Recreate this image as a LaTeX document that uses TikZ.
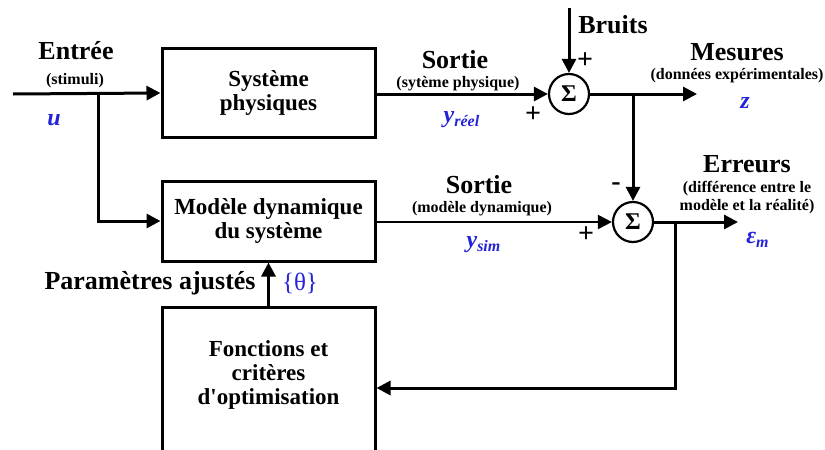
\documentclass[tikz,border=0pt]{standalone}
\usepackage{fontspec}
\setmainfont{Liberation Serif}
\usetikzlibrary{arrows.meta}

\definecolor{bleusig}{RGB}{35,35,215}

\tikzset{
  bloc/.style={draw, line width=1.5pt, minimum width=106.5pt, inner sep=0pt,
    align=center, font=\bfseries\fontsize{11.5}{12}\selectfont},
  somme/.style={circle, draw, line width=1.1pt, minimum size=20pt, inner sep=0pt,
    font=\bfseries\fontsize{12}{12}\selectfont},
  fleche/.style={line width=1.5pt, -{Triangle[length=7pt,width=7pt]}},
  titre/.style={font=\bfseries\fontsize{13}{13}\selectfont, inner sep=0pt},
  petit/.style={font=\bfseries\fontsize{8}{7.5}\selectfont, inner sep=0pt, align=center},
  signe/.style={font=\bfseries\fontsize{14}{14}\selectfont, inner sep=0pt},
  sig/.style={text=bleusig, font=\bfseries\itshape\fontsize{12}{12}\selectfont, inner sep=0pt},
}

\begin{document}
\begin{tikzpicture}[x=0.5pt, y=-0.5pt]

\clip (0,0) rectangle (825,450);

% blocs
\node[bloc, minimum height=44.5pt] (systeme) at (268.5,93) {Système\\physiques};
\node[bloc, minimum height=40pt] (modele) at (268.5,221) {Modèle dynamique\\du système};
\node[bloc, minimum height=81pt] (optim) at (268.5,388) {};
\node[align=center, inner sep=0pt, font=\bfseries\fontsize{11.5}{12}\selectfont] (optimtxt) at ([yshift=6.5pt]optim.center) {Fonctions et\\critères\\d\textquotesingle optimisation};

% sommateurs
\node[somme] (sum1) at (569,94) {Σ};
\node[somme] (sum2) at (633,222) {Σ};

% points de branchement
\coordinate (entree) at (13,94);
\coordinate (b1) at (98,94);
\coordinate (bruit) at (569,8);
\coordinate (b2) at (633,94);
\coordinate (mes) at (697,94);
\coordinate (b3) at (675,222);
\coordinate (err) at (738,222);
\coordinate (coin) at (675,388);

% connexions
\draw[fleche] (entree) -- (systeme.west);
\draw[fleche] (b1) |- (modele.west);
\draw[fleche] (systeme.east |- sum1) -- (sum1.west);
\draw[fleche] (bruit) -- (sum1.north);
\draw[fleche] (sum1.east) -- (mes);
\draw[fleche] (b2) -- (sum2.north);
\draw[line width=1pt, -{Triangle[length=7pt,width=7pt]}] (modele.east |- sum2) -- (sum2.west);
\draw[fleche] (sum2.east) -- (err);
\draw[fleche] (b3) -- (coin) -- (coin -| optim.east);
\draw[fleche] (optim.north) -- (modele.south);

% textes
\node[titre] (lentree) at (76,51) {Entrée};
\node[petit] (lstim) at (75,81) {(stimuli)};
\node[sig] (lu) at (54,120) {u};

\node[titre] (lsortie1) at (455,60) {Sortie};
\node[petit] (lphys) at (458,84) {(sytème physique)};
\node[sig] (lyreel) at (462,120) {y\textsubscript{réel}};

\node[signe] (p1) at (533,115) {+};
\node[titre] (lbruit) at (613,25) {Bruits};
\node[signe] (p2) at (585,61) {+};

\node[titre] (lmes) at (737,52) {Mesures};
\node[petit] (lexp) at (737,76) {(données expérimentales)};
\node[sig] (lz) at (745,103) {z};

\node[titre] (lsortie2) at (479,185) {Sortie};
\node[petit] (ldyn) at (482,209) {(modèle dynamique)};
\node[sig] (lysim) at (484,245) {y\textsubscript{sim}};

\node[signe] (p3) at (586,235) {+};
\node[signe] (m1) at (616,187) {-};

\node[titre] (lerr) at (747,164) {Erreurs};
\node[petit, font=\bfseries\fontsize{8}{9}\selectfont] (ldiff) at (747,198) {(différence entre le\\modèle et la réalité)};
\node[sig] (leps) at (758,240) {ε\textsubscript{m}};

\node[titre, anchor=east] (lparam) at (256,283) {Paramètres ajustés};
\node[text=bleusig, font=\fontsize{12.5}{12}\selectfont, inner sep=0pt] (ltheta) at (300,283) {\{θ\}};

\end{tikzpicture}
\end{document}
